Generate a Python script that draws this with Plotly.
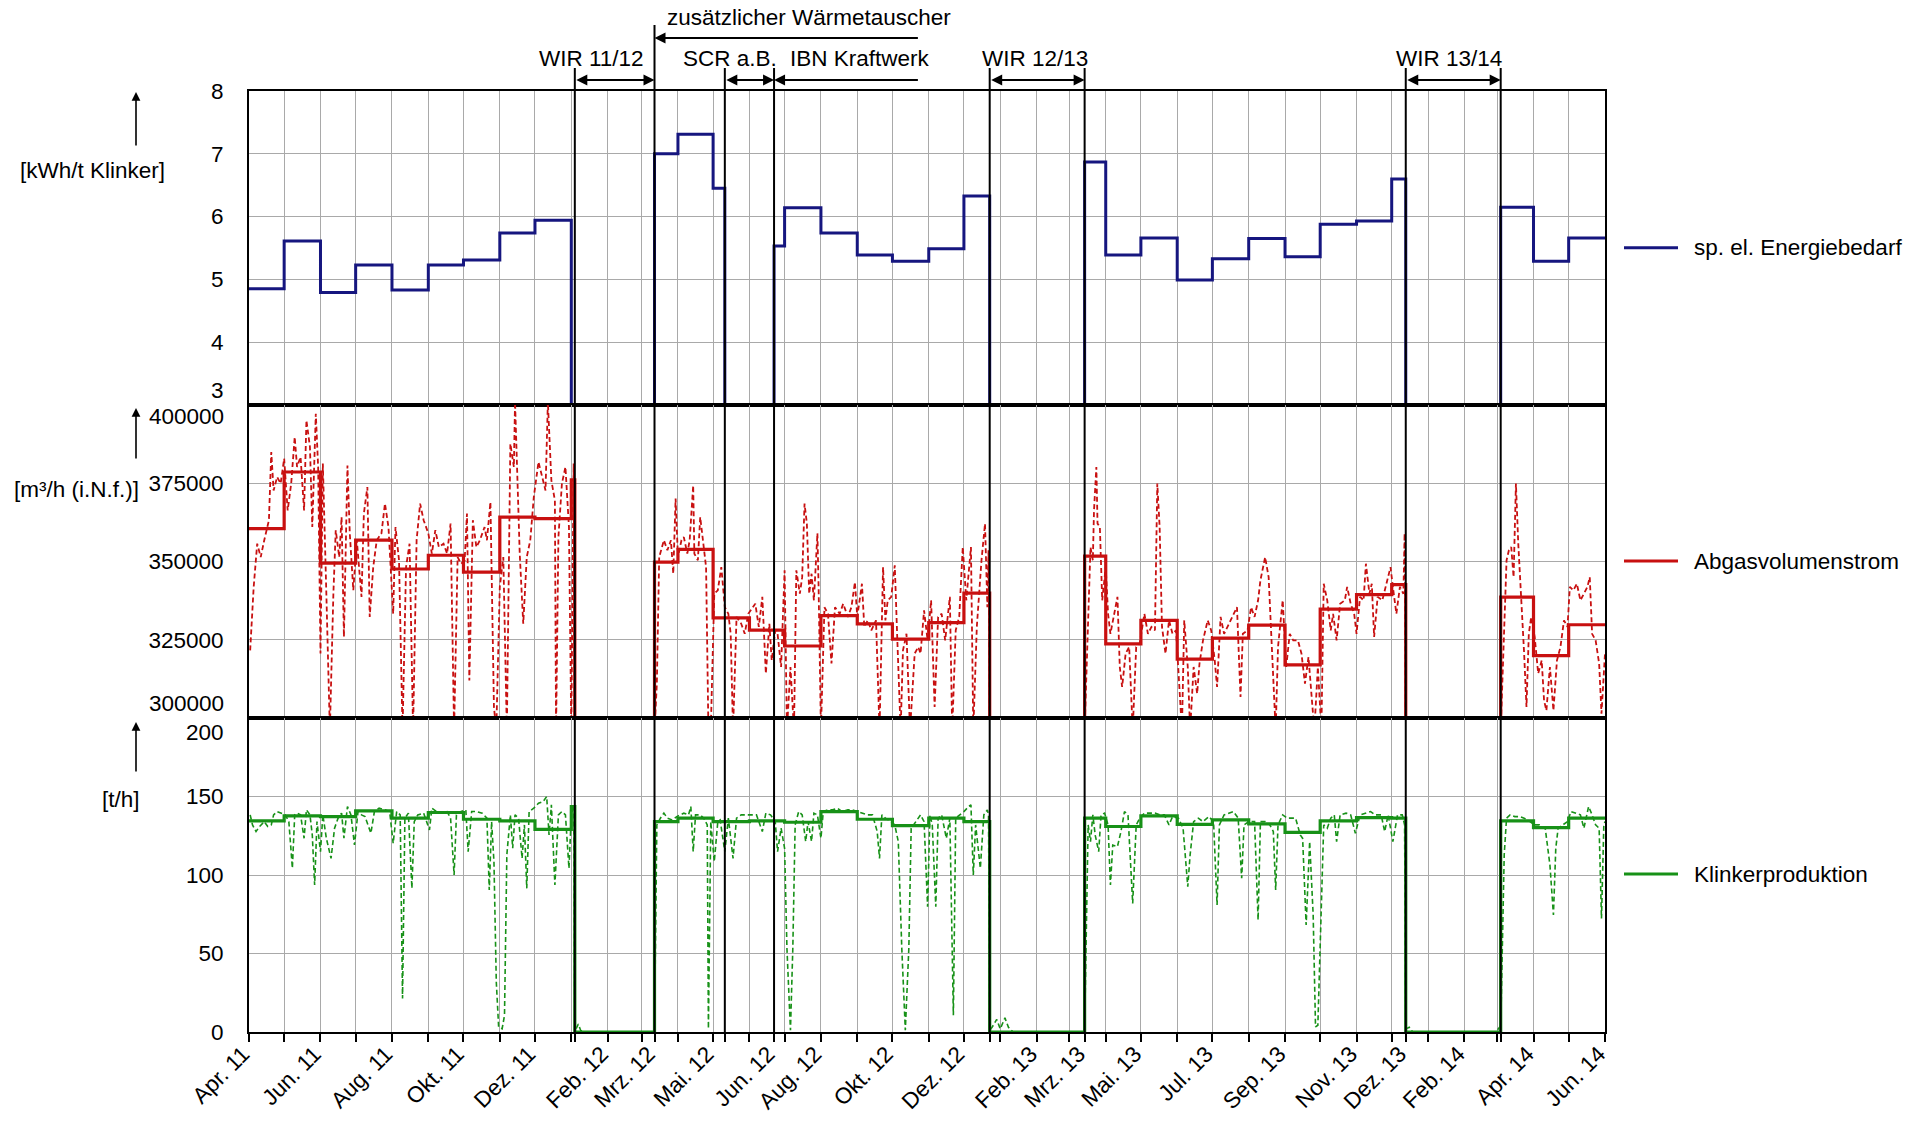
import plotly.graph_objects as go
import pandas as pd
from datetime import date, timedelta

FONT = "Liberation Sans, Arial, sans-serif"
FS = 22.5
FS_X = 22.5
BLUE = "#16167f"
RED = "#c81010"
GREEN = "#179117"
GRID = "#a9a9a9"

X_START, X_END = "2011-04-01", "2014-06-01"
BASE = date(2011, 4, 1)

# ---- events (Stillstände / Maßnahmen)
WIR_1112 = ("2012-01-04", "2012-03-12")
SCR_AB = ("2012-05-11", "2012-06-22")
WIR_1213 = ("2012-12-23", "2013-03-14")
WIR_1314 = ("2013-12-13", "2014-03-04")
IBN_TAIL = "2012-10-24"

# ---- x tick labels
TICK_DATES = ["2011-04-01", "2011-06-01", "2011-08-01", "2011-10-01", "2011-12-01", "2012-02-01",
              "2012-03-12", "2012-05-01", "2012-06-22", "2012-08-01", "2012-10-01", "2012-12-01",
              "2013-02-01", "2013-03-14", "2013-05-01", "2013-07-01", "2013-09-01", "2013-11-01",
              "2013-12-13", "2014-02-01", "2014-04-01", "2014-06-01"]
TICK_LABELS = ["Apr. 11", "Jun. 11", "Aug. 11", "Okt. 11", "Dez. 11", "Feb. 12", "Mrz. 12", "Mai. 12",
               "Jun. 12", "Aug. 12", "Okt. 12", "Dez. 12", "Feb. 13", "Mrz. 13", "Mai. 13", "Jul. 13",
               "Sep. 13", "Nov. 13", "Dez. 13", "Feb. 14", "Apr. 14", "Jun. 14"]

# ---- monthly values: specific electric energy demand [kWh/t Klinker]
E_DATES = ["2011-04-01", "2011-05-01", "2011-06-01", "2011-07-01", "2011-08-01", "2011-09-01", "2011-10-01",
           "2011-11-01", "2011-12-01", "2012-01-01", "2012-03-12", "2012-04-01", "2012-05-01", "2012-05-11",
           "2012-06-22", "2012-07-01", "2012-08-01", "2012-09-01", "2012-10-01", "2012-11-01", "2012-12-01",
           "2012-12-23", "2013-03-14", "2013-04-01", "2013-05-01", "2013-06-01", "2013-07-01", "2013-08-01",
           "2013-09-01", "2013-10-01", "2013-11-01", "2013-12-01", "2013-12-13", "2014-03-04", "2014-04-01",
           "2014-05-01", "2014-06-01"]
E_VALS = [4.85, 5.61, 4.79, 5.23, 4.83, 5.23, 5.31, 5.74, 5.94, 0, 7.00, 7.31, 6.45, 0, 5.53, 6.14, 5.74,
          5.39, 5.29, 5.49, 6.33, 0, 6.87, 5.39, 5.66, 4.99, 5.33, 5.65, 5.36, 5.88, 5.93, 6.60, 0, 6.15,
          5.29, 5.66, 5.66]

# ---- monthly values: exhaust gas flow [m3/h] and clinker production [t/h]
M_DATES = ["2011-04-01", "2011-05-01", "2011-06-01", "2011-07-01", "2011-08-01", "2011-09-01", "2011-10-01",
           "2011-11-01", "2011-12-01", "2012-01-01", "2012-01-04", "2012-03-12", "2012-04-01", "2012-05-01",
           "2012-06-01", "2012-07-01", "2012-08-01", "2012-09-01", "2012-10-01", "2012-11-01", "2012-12-01",
           "2012-12-23", "2013-03-14", "2013-04-01", "2013-05-01", "2013-06-01", "2013-07-01", "2013-08-01",
           "2013-09-01", "2013-10-01", "2013-11-01", "2013-12-01", "2013-12-13", "2014-03-04", "2014-04-01",
           "2014-05-01", "2014-06-01"]
A_VALS = [360500, 378600, 349500, 356800, 347600, 352000, 346600, 364200, 363700, 376100, 0, 349800,
          353900, 332000, 328100, 323000, 332700, 330100, 325200, 330500, 339900, 0, 351700, 323700, 331200,
          318800, 325500, 329700, 317000, 334800, 339400, 342600, 0, 338600, 319900, 329800, 329800]
K_VALS = [134.5, 137.7, 137.2, 140.9, 136.2, 139.8, 135.5, 134.5, 129.1, 143.6, 0, 134.0, 136.2, 134.0,
          134.5, 133.6, 140.4, 135.5, 131.5, 136.2, 134.0, 0, 136.2, 130.9, 137.7, 132.3, 135.1, 132.6,
          127.2, 134.5, 136.6, 136.2, 0, 134.5, 130.2, 136.2, 136.2]

# ---- daily values (day number counted from 01.04.2011) : Abgasvolumenstrom
A1_DAYS = [1, 4, 7, 10, 13, 17, 19, 21, 24, 27, 30, 33, 36, 39, 41, 44, 47, 49, 52, 54, 57, 59, 61, 63, 66,
           69, 72, 74, 77, 79, 81, 84, 86, 89, 92, 96, 98, 101, 103, 106, 109, 113, 116, 119, 123, 125, 128,
           131, 134, 137, 140, 143, 146, 149, 153, 156, 159, 162, 166, 169, 172, 175, 178, 181, 184, 186,
           188, 191, 194, 197, 201, 203, 206, 209, 211, 214, 217, 220, 223, 226, 227, 229, 231, 234, 237,
           240, 243, 247, 250, 253, 255, 258, 261, 262, 264, 267, 270, 273, 275, 277, 278]
A1_VALS = [321600, 341900, 355700, 351400, 356800, 363200, 385000, 372700, 377000, 374900, 382900, 366300,
           374900, 389800, 380200, 383400, 366300, 395100, 386600, 361000, 397200, 380200, 320600, 381300,
           339700, 296000, 339700, 360000, 351400, 364200, 325900, 380700, 359000, 340800, 356800, 338700,
           365300, 373800, 332300, 348200, 356800, 359000, 368500, 361000, 333300, 361000, 350400, 296000,
           348200, 355700, 296000, 356800, 368500, 363200, 359000, 352500, 360000, 354600, 355700, 352500,
           362100, 296000, 351400, 349300, 350400, 365300, 312000, 363200, 354600, 356800, 361000, 356800,
           369000, 303500, 296000, 341900, 351400, 296000, 387600, 380200, 401000, 375900, 352500, 330100,
           351400, 356800, 370600, 381800, 377000, 372700, 401000, 375900, 369500, 296000, 357800, 374900,
           380200, 361000, 296000, 381300, 296000]
A2_DAYS = [346, 348, 350, 352, 354, 357, 360, 362, 364, 366, 369, 371, 374, 376, 379, 380, 383, 385, 388,
           390, 392, 394, 397, 400, 403, 406, 409, 411, 413, 416, 420, 423, 426, 430, 432, 435, 438, 441,
           444, 446, 449, 451, 454, 457, 459, 462, 465, 467, 470, 472, 474, 476, 478, 480, 482, 485, 486,
           488, 491, 494, 497, 500, 504, 507, 511, 514, 517, 519, 523, 525, 528, 531, 535, 538, 541, 543,
           545, 548, 551, 553, 556, 558, 561, 564, 568, 571, 573, 576, 579, 582, 585, 588, 591, 594, 598,
           600, 603, 606, 609, 612, 616, 618, 621, 625, 628, 630, 631, 632]
A2_VALS = [296000, 311000, 351400, 354600, 356800, 353600, 356800, 346100, 370100, 351400, 356800, 357800,
           352500, 356800, 374300, 352500, 350400, 364200, 355700, 348200, 296000, 296000, 339700, 340800,
           348200, 335400, 333300, 326900, 296000, 332300, 330100, 326900, 333300, 335400, 336500, 329100,
           338700, 314200, 330100, 318400, 328000, 326900, 316300, 347200, 296000, 316300, 296000, 347200,
           339700, 345000, 368500, 362100, 339700, 346100, 337600, 359000, 341900, 296000, 335400, 333300,
           317400, 335400, 333300, 336500, 332300, 335400, 343400, 332300, 342900, 329100, 331200, 328000,
           331200, 296000, 348200, 331200, 337600, 338700, 348800, 326900, 296000, 321600, 326900, 296000,
           320600, 322700, 320600, 334400, 324800, 337600, 303500, 332300, 333300, 324800, 338700, 296000,
           328000, 332300, 354600, 337600, 354600, 296000, 329100, 350400, 362100, 335400, 353600, 296000]
A3_DAYS = [713, 716, 718, 720, 721, 723, 724, 726, 728, 731, 733, 735, 738, 741, 743, 745, 748, 751, 754,
           757, 760, 764, 767, 770, 773, 775, 777, 779, 782, 785, 788, 791, 794, 796, 798, 801, 803, 806,
           809, 811, 814, 818, 821, 824, 826, 829, 832, 835, 839, 843, 846, 848, 852, 855, 858, 861, 863,
           867, 870, 873, 876, 878, 882, 885, 888, 891, 895, 898, 901, 904, 909, 912, 915, 917, 920, 923,
           925, 928, 931, 935, 937, 940, 943, 945, 948, 951, 953, 956, 958, 960, 963, 967, 970, 974, 976,
           979, 982, 985, 986, 987]
A3_VALS = [296000, 329100, 354600, 350400, 366300, 380200, 362100, 361000, 337600, 348200, 333300, 326900,
           333300, 338700, 316300, 309900, 320600, 322700, 296000, 322700, 323800, 333300, 326900, 329100,
           328000, 374900, 361000, 329100, 320600, 331200, 326900, 328000, 308800, 296000, 331200, 316300,
           296000, 316300, 307800, 317400, 324800, 331200, 328000, 318400, 309900, 332300, 326900, 329100,
           332300, 335400, 306700, 326900, 328000, 335400, 332300, 337600, 344000, 351400, 345000, 322700,
           296000, 322700, 337600, 316300, 326900, 324800, 324800, 320600, 311000, 319500, 296000, 316300,
           296000, 342900, 337600, 328000, 333300, 324800, 336500, 337600, 341900, 336500, 333300, 326900,
           338700, 337600, 349300, 339700, 342900, 325900, 338700, 337600, 341900, 348200, 341900, 333300,
           341900, 339700, 359000, 296000]
A4_DAYS = [1068, 1071, 1073, 1075, 1077, 1079, 1081, 1083, 1086, 1088, 1090, 1092, 1094, 1097, 1100, 1103,
           1105, 1107, 1110, 1113, 1116, 1119, 1122, 1125, 1127, 1130, 1133, 1136, 1139, 1142, 1144, 1146,
           1149, 1152, 1154, 1156, 1157]
A4_VALS = [296000, 329100, 350400, 353600, 354600, 345000, 374900, 355700, 335400, 320600, 303500, 326900,
           332300, 325900, 314200, 318400, 305600, 302400, 316300, 302400, 318400, 322700, 331200, 329100,
           341900, 340800, 342900, 337600, 339700, 341900, 345000, 326900, 324800, 317400, 301400, 314200,
           320600]

# ---- daily values: Klinkerproduktion [t/h]
K1_DAYS = [1, 3, 6, 9, 13, 16, 19, 21, 24, 27, 31, 34, 37, 39, 41, 44, 47, 49, 52, 54, 56, 58, 61, 63, 66,
           70, 73, 76, 79, 81, 84, 87, 90, 93, 96, 99, 104, 107, 111, 116, 120, 123, 126, 129, 131, 133, 136,
           139, 141, 144, 149, 154, 156, 160, 164, 169, 172, 175, 177, 181, 185, 187, 190, 194, 199, 203,
           205, 207, 209, 211, 213, 216, 218, 220, 223, 225, 227, 230, 233, 235, 237, 239, 243, 247, 251,
           254, 256, 258, 261, 264, 267, 270, 273, 275, 277]
K1_VALS = [138.3, 131.9, 127.7, 130.9, 134.0, 130.9, 131.9, 138.3, 140.4, 139.4, 138.3, 134.0, 104.3, 138.3,
           139.4, 138.3, 123.4, 141.5, 138.3, 125.5, 93.6, 134.0, 114.9, 138.3, 123.4, 110.6, 129.8, 136.2,
           139.4, 123.4, 143.6, 138.3, 119.1, 140.4, 138.3, 137.2, 126.6, 140.4, 142.6, 141.5, 140.4, 120.2,
           140.4, 138.3, 21.3, 136.2, 139.4, 91.5, 134.0, 138.3, 139.4, 128.7, 142.6, 140.4, 139.4, 140.4,
           136.2, 100.0, 138.3, 140.4, 141.5, 114.9, 140.4, 140.4, 139.4, 136.2, 90.4, 134.0, 108.5, 31.9,
           3.2, 2.1, 10.6, 112.8, 138.3, 117.0, 138.3, 136.2, 110.6, 131.9, 91.5, 140.4, 142.6, 145.7, 146.8,
           150.0, 125.5, 144.7, 93.6, 138.3, 140.4, 138.3, 104.3, 138.3, 144.7]
KS1_DAYS = [278, 279, 281, 283, 286, 345]
KS1_VALS = [4, 2, 5, 1, 0, 0]
K2_DAYS = [346, 348, 351, 354, 357, 361, 365, 368, 371, 375, 377, 379, 381, 385, 388, 391, 392, 394, 397,
           400, 402, 406, 409, 413, 416, 420, 424, 428, 433, 438, 441, 445, 449, 451, 454, 457, 459, 462,
           464, 466, 469, 472, 475, 477, 480, 482, 485, 488, 490, 494, 498, 502, 506, 511, 515, 519, 524,
           528, 532, 536, 538, 540, 543, 548, 551, 554, 557, 560, 563, 565, 569, 573, 576, 579, 581, 583,
           586, 588, 591, 595, 598, 601, 603, 607, 610, 614, 616, 618, 620, 624, 627, 630, 631]
K2_VALS = [2, 131.9, 136.2, 139.4, 136.2, 135.1, 137.2, 138.3, 139.4, 138.3, 143.6, 114.9, 138.3, 138.3,
           136.2, 131.9, 2.1, 134.0, 108.5, 134.0, 135.1, 114.9, 136.2, 110.6, 136.2, 138.3, 138.3, 138.3,
           138.3, 127.7, 139.4, 138.3, 134.0, 114.9, 129.8, 117.0, 53.2, 1.1, 53.2, 131.9, 140.4, 138.3,
           121.3, 134.0, 121.3, 139.4, 138.3, 123.4, 140.4, 141.5, 141.5, 142.6, 140.4, 141.5, 141.5, 140.4,
           139.4, 138.3, 138.3, 127.7, 110.6, 138.3, 136.2, 134.0, 131.9, 121.3, 53.2, 1.1, 53.2, 129.8,
           134.0, 138.3, 134.0, 79.8, 138.3, 131.9, 79.8, 136.2, 138.3, 123.4, 136.2, 10.6, 136.2, 138.3,
           140.4, 143.6, 144.7, 100.0, 131.9, 104.3, 138.3, 141.5, 138.3]
KS2_DAYS = [632, 634, 638, 641, 645, 648, 652, 712]
KS2_VALS = [1, 3, 8, 2, 9, 3, 0, 0]
K3_DAYS = [713, 716, 718, 720, 722, 725, 727, 730, 733, 735, 737, 741, 744, 747, 750, 754, 757, 760, 764,
           768, 773, 777, 781, 785, 788, 793, 797, 801, 803, 806, 810, 814, 819, 823, 826, 828, 832, 836,
           840, 844, 847, 849, 853, 858, 861, 863, 867, 871, 874, 876, 878, 882, 886, 889, 893, 897, 899,
           902, 905, 908, 910, 912, 915, 917, 920, 923, 926, 928, 931, 936, 940, 944, 948, 952, 957, 961,
           966, 969, 972, 976, 980, 984, 986]
K3_VALS = [2, 131.9, 121.3, 138.3, 125.5, 114.9, 138.3, 139.4, 131.9, 93.6, 119.1, 118.1, 127.7, 140.4,
           138.3, 81.9, 131.9, 136.2, 139.4, 139.4, 139.4, 138.3, 138.3, 131.9, 137.2, 136.2, 129.8, 92.6,
           112.8, 134.0, 136.2, 134.0, 137.2, 134.0, 80.9, 131.9, 138.3, 139.4, 140.4, 136.2, 97.9, 131.9,
           134.0, 134.0, 71.3, 134.0, 134.0, 131.9, 127.7, 90.4, 131.9, 138.3, 136.2, 136.2, 136.2, 125.5,
           123.4, 68.1, 121.3, 74.5, 3.2, 4.3, 74.5, 131.9, 129.8, 136.2, 138.3, 121.3, 138.3, 139.4, 138.3,
           126.6, 138.3, 139.4, 140.4, 138.3, 138.3, 127.7, 138.3, 121.3, 138.3, 138.3, 131.9]
KS3_DAYS = [987, 990, 993, 1064, 1067]
KS3_VALS = [2, 3, 0, 0, 3]
K4_DAYS = [1068, 1071, 1073, 1076, 1080, 1084, 1088, 1093, 1097, 1101, 1106, 1110, 1113, 1115, 1117, 1121,
           1125, 1128, 1132, 1136, 1139, 1143, 1146, 1149, 1152, 1154, 1156, 1157]
K4_VALS = [2, 112.8, 136.2, 138.3, 137.2, 137.2, 136.2, 134.0, 131.9, 131.9, 129.8, 106.4, 74.5, 117.0,
           129.8, 131.9, 134.0, 140.4, 139.4, 138.3, 129.8, 143.6, 138.3, 131.9, 129.8, 72.3, 131.9, 134.0]

LEGEND_NAMES = ["sp. el. Energiebedarf", "Abgasvolumenstrom", "Klinkerproduktion"]
LEGEND_COLORS = [BLUE, RED, GREEN]


def to_dates(days):
    return [(BASE + timedelta(days=int(d))).isoformat() for d in days]


def join(parts, gap=True):
    xs, ys = [], []
    for i, (dd, vv) in enumerate(parts):
        if gap and i > 0:
            xs.append(None)
            ys.append(None)
        xs += to_dates(dd)
        ys += list(vv)
    return xs, ys


ax_, ay_ = join([(A1_DAYS, A1_VALS), (A2_DAYS, A2_VALS), (A3_DAYS, A3_VALS), (A4_DAYS, A4_VALS)])
kx_, ky_ = join([(K1_DAYS, K1_VALS), (KS1_DAYS, KS1_VALS), (K2_DAYS, K2_VALS), (KS2_DAYS, KS2_VALS),
                 (K3_DAYS, K3_VALS), (KS3_DAYS, KS3_VALS), (K4_DAYS, K4_VALS)], gap=False)

fig = go.Figure()

fig.add_trace(go.Scatter(x=E_DATES, y=E_VALS, mode="lines", line=dict(color=BLUE, width=3, shape="hv"),
                         name=LEGEND_NAMES[0], xaxis="x", yaxis="y", showlegend=False))
fig.add_trace(go.Scatter(x=ax_, y=ay_, mode="lines", line=dict(color=RED, width=1.8, dash="5px,3px"),
                         name="Abgasvolumenstrom (Tageswerte)", showlegend=False, xaxis="x2", yaxis="y2",
                         connectgaps=False))
fig.add_trace(go.Scatter(x=M_DATES, y=A_VALS, mode="lines", line=dict(color=RED, width=3.2, shape="hv"),
                         name=LEGEND_NAMES[1], xaxis="x2", yaxis="y2", showlegend=False))
fig.add_trace(go.Scatter(x=kx_, y=ky_, mode="lines", line=dict(color=GREEN, width=1.6, dash="5px,3px"),
                         name="Klinkerproduktion (Tageswerte)", showlegend=False, xaxis="x3", yaxis="y3"))
fig.add_trace(go.Scatter(x=M_DATES, y=K_VALS, mode="lines", line=dict(color=GREEN, width=3.2, shape="hv"),
                         name=LEGEND_NAMES[2], xaxis="x3", yaxis="y3", showlegend=False))

# grid positions: month starts + event dates
months = [d.strftime("%Y-%m-%d") for d in pd.date_range(X_START, X_END, freq="MS")]
events = [WIR_1112[0], WIR_1112[1], SCR_AB[0], SCR_AB[1], WIR_1213[0], WIR_1213[1], WIR_1314[0], WIR_1314[1]]
all_ticks = sorted(set(months + events))
lab = dict(zip(TICK_DATES, TICK_LABELS))
all_text = [lab.get(t, "") for t in all_ticks]

xcommon = dict(type="date", range=[X_START, X_END], tickvals=all_ticks, showgrid=True, gridcolor=GRID,
               gridwidth=1.2, showline=True, linecolor="black", linewidth=2, mirror=True, zeroline=False,
               automargin=False)
ycommon = dict(showgrid=True, gridcolor=GRID, gridwidth=1.2, showline=True, linecolor="black", linewidth=2,
               mirror=True, zeroline=False, ticks="", ticklabelstandoff=19, automargin=False,
               tickfont=dict(size=FS, color="black", family=FONT))

H = 941.0
W = 1356.0
d3 = 314 / H
d2 = 627 / H

fig.update_layout(
    width=1922, height=1121,
    margin=dict(l=249, r=317, t=91, b=89, autoexpand=False),
    paper_bgcolor="white", plot_bgcolor="white",
    font=dict(family=FONT, size=FS, color="black"),
    showlegend=False,
    xaxis=dict(**xcommon, anchor="y", showticklabels=False, ticks=""),
    xaxis2=dict(**xcommon, anchor="y2", showticklabels=False, ticks=""),
    xaxis3=dict(**xcommon, anchor="y3", ticktext=all_text, tickangle=-45, ticks="outside", ticklen=8,
                tickcolor="black", tickwidth=1.5, ticklabelstandoff=-10, ticklabelshift=-6,
                tickfont=dict(size=FS_X, color="black", family=FONT)),
    yaxis=dict(**ycommon, domain=[d2, 1], anchor="x", range=[3, 8], tickvals=[3, 4, 5, 6, 7, 8],
               ticktext=["", "4", "5", "6", "7", "8"]),
    yaxis2=dict(**ycommon, domain=[d3, d2], anchor="x2", range=[300000, 400000],
                tickvals=[300000, 325000, 350000, 375000, 400000],
                ticktext=["", "325000", "350000", "375000", ""]),
    yaxis3=dict(**ycommon, domain=[0, d3], anchor="x3", range=[0, 200], tickvals=[0, 50, 100, 150, 200],
                ticktext=["0", "50", "100", "150", ""]),
)

# event lines
shapes = []
Y_LOW = (1032 - 68) / H
Y_HIGH = (1032 - 25) / H
for ev in events:
    top = Y_HIGH if ev == WIR_1112[1] else Y_LOW
    shapes.append(dict(type="line", xref="x", yref="paper", x0=ev, x1=ev, y0=0, y1=top,
                       line=dict(color="black", width=2)))

ann = []
# legend (line sample + label) beside each panel
for name, col, ypx in zip(LEGEND_NAMES, LEGEND_COLORS, [247.7, 561, 874]):
    yp = (1032 - ypx) / H
    shapes.append(dict(type="line", xref="paper", yref="paper", x0=(1624 - 249) / W, x1=(1678 - 249) / W,
                       y0=yp, y1=yp, line=dict(color=col, width=3)))
    ann.append(dict(x=(1692 - 249) / W, y=yp, xref="paper", yref="paper", text=name, showarrow=False,
                    xanchor="left", yanchor="middle", font=dict(size=FS)))
fig.update_layout(shapes=shapes)

Y_ARR = (1032 - 80) / H
Y_ARR2 = (1032 - 38) / H
Y_TXT = (1032 - 58) / H
Y_TXT2 = (1032 - 18) / H


def harrow(head, tail, y, both):
    a = dict(x=head, y=y, xref="x", yref="paper", ax=tail, ay=0, axref="x", ayref="pixel", text="",
             showarrow=True, arrowhead=2, arrowsize=1.1, arrowwidth=2, arrowcolor="black", standoff=0)
    if both:
        a.update(arrowside="end+start", startarrowhead=2, startarrowsize=1.1, startstandoff=0)
    return a


ann.append(harrow(WIR_1112[1], WIR_1112[0], Y_ARR, True))
ann.append(harrow(SCR_AB[1], SCR_AB[0], Y_ARR, True))
ann.append(harrow(SCR_AB[1], IBN_TAIL, Y_ARR, False))
ann.append(harrow(WIR_1112[1], IBN_TAIL, Y_ARR2, False))
ann.append(harrow(WIR_1213[1], WIR_1213[0], Y_ARR, True))
ann.append(harrow(WIR_1314[1], WIR_1314[0], Y_ARR, True))

for txt, xd, yy in [("WIR 11/12", "2012-01-18", Y_TXT), ("SCR a.B.", "2012-05-15", Y_TXT),
                    ("IBN Kraftwerk", "2012-09-03", Y_TXT), ("zusätzlicher Wärmetauscher", "2012-07-22", Y_TXT2),
                    ("WIR 12/13", "2013-01-31", Y_TXT), ("WIR 13/14", "2014-01-19", Y_TXT)]:
    ann.append(dict(x=xd, y=yy, xref="x", yref="paper", text=txt, showarrow=False, xanchor="center",
                    yanchor="middle", font=dict(size=FS)))

# y titles and up arrows
for txt, xpx, ypx in [("[kWh/t Klinker]", 92, 170), ("[m³/h (i.N.f.)]", 76.5, 489), ("[t/h]", 121, 800)]:
    ann.append(dict(x=(xpx - 249) / W, y=(1032 - ypx) / H, xref="paper", yref="paper", text=txt,
                    showarrow=False, xanchor="center", yanchor="middle", font=dict(size=FS)))
for head, tail in [(92, 147), (408, 460), (722, 773)]:
    ann.append(dict(x=(136 - 249) / W, y=(1032 - head) / H, xref="paper", yref="paper", text="",
                    showarrow=True, ax=0, ay=tail - head, axref="pixel", ayref="pixel", arrowhead=2,
                    arrowsize=1.1, arrowwidth=1.6, arrowcolor="black", standoff=0))

# boundary tick labels shifted into their panel
for txt, yref, yv, shift in [("3", "y", 3, 15), ("400000", "y2", 400000, -12), ("300000", "y2", 300000, 15),
                             ("200", "y3", 200, -14)]:
    ann.append(dict(x=0, y=yv, xref="paper", yref=yref, text=txt, showarrow=False, xanchor="right",
                    yanchor="middle", xshift=-23, yshift=shift, font=dict(size=FS)))

fig.update_layout(annotations=ann)
fig.write_html("out.html", config={"displayModeBar": False},
               post_script="document.body.style.margin='0';document.body.style.padding='0';"
                           "document.documentElement.style.overflow='hidden';")
